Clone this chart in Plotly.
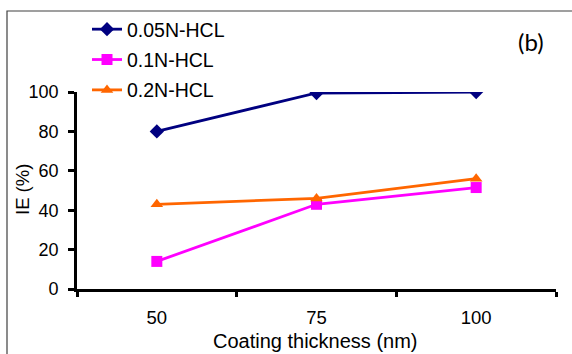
import plotly.graph_objects as go

categories = ["50", "75", "100"]
ie_005 = [80, 99.5, 100]
ie_01 = [14, 43, 51.5]
ie_02 = [43, 46, 56]
y_ticks = [0, 20, 40, 60, 80, 100]

W, H = 572, 354
L, R, T, B = 77, 16, 92, 65
pw, ph = W - L - R, H - T - B
FONT = "Liberation Sans, Arial, sans-serif"

def px(x):
    return (x - L) / pw

def py(y):
    return (H - B - y) / ph

fig = go.Figure()
series = [
    ("0.05N-HCL", ie_005, "#000080", "diamond", 11),
    ("0.1N-HCL", ie_01, "#FF00FF", "square", 11),
    ("0.2N-HCL", ie_02, "#FF6600", "triangle-up", 11),
]
for i, (name, vals, col, sym, sz) in enumerate(series):
    fig.add_trace(go.Scatter(
        x=categories, y=vals, name=name, mode="lines+markers",
        line=dict(color=col, width=2.8),
        marker=dict(symbol=sym, size=sz, color=col),
        legendgroup=f"g{i}",
    ))

fig.update_layout(
    width=W, height=H,
    margin=dict(l=L, r=R, t=T, b=B, autoexpand=False),
    paper_bgcolor="white", plot_bgcolor="white",
    font=dict(family=FONT, color="black", size=18),
    showlegend=True,
    legend=dict(
        xref="container", yref="container",
        x=87 / W, y=1 - 10 / H, xanchor="left", yanchor="top",
        bgcolor="rgba(255,255,255,0)", borderwidth=0,
        font=dict(size=19.5, family=FONT),
        tracegroupgap=2, itemwidth=30,
    ),
    xaxis=dict(
        type="category", range=[-0.5, 2.5], automargin=False,
        showline=True, linecolor="black", linewidth=2.8,
        ticks="outside", ticklen=5, tickwidth=2.5, tickcolor="black",
        tickson="boundaries", showgrid=False, zeroline=False,
        tickfont=dict(size=18.5), ticklabelstandoff=10,
    ),
    yaxis=dict(
        range=[0, 100], tickvals=y_ticks, automargin=False,
        showline=True, linecolor="black", linewidth=2.8,
        ticks="outside", ticklen=6, tickwidth=2.5, tickcolor="black",
        showgrid=False, zeroline=False,
        tickfont=dict(size=18), ticklabelstandoff=6,
    ),
    shapes=[dict(
        type="rect", xref="paper", yref="paper",
        x0=px(7), x1=px(600), y0=py(400), y1=py(11),
        line=dict(color="#404040", width=1.2), fillcolor="rgba(0,0,0,0)", layer="below",
    )],
    annotations=[
        dict(text="(b)", xref="paper", yref="paper", x=px(531), y=py(42),
             xanchor="center", yanchor="middle", showarrow=False,
             font=dict(size=24, family="Lato, Open Sans, sans-serif", color="black")),
        dict(text="Coating thickness (nm)", xref="paper", yref="paper",
             x=px(315), y=py(341), xanchor="center", yanchor="middle",
             showarrow=False, font=dict(size=20, family=FONT)),
        dict(text="IE (%)", xref="paper", yref="paper", textangle=-90,
             x=px(22), y=py(190), xanchor="center", yanchor="middle",
             showarrow=False, font=dict(size=18.5, family=FONT)),
    ],
)

fig.write_html(
    "out.html",
    config={"displayModeBar": False},
    post_script="document.body.style.margin='0';document.body.style.overflow='hidden';",
)
